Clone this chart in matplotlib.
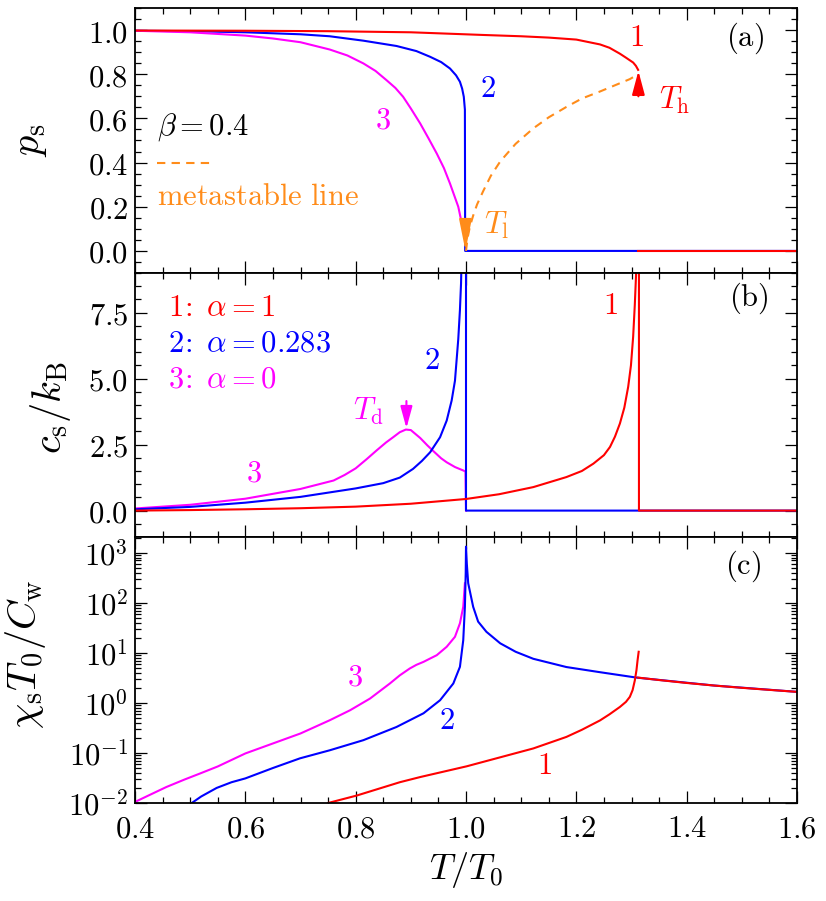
import numpy as np
import matplotlib
matplotlib.use("Agg")
import matplotlib.pyplot as plt
from matplotlib.ticker import MultipleLocator, FuncFormatter, LogLocator, NullFormatter

plt.rcParams['mathtext.fontset'] = 'cm'
plt.rcParams['font.family'] = ['DejaVu Serif']

RED, BLUE, MAG, ORG = '#ff0000', '#0000ff', '#ff00ff', '#ff8c1a'

# ---------------- panel (a): p_s ----------------
a_red_T = [0.40, 0.60, 0.75, 0.90, 1.03, 1.10, 1.15, 1.20, 1.243, 1.26, 1.279, 1.29, 1.303, 1.308, 1.312]
a_red_p = [0.998, 0.997, 0.995, 0.99, 0.978, 0.972, 0.966, 0.957, 0.935, 0.92, 0.893, 0.875, 0.853, 0.838, 0.82]
a_red0_T = [1.312, 1.60]
a_red0_p = [0.0, 0.0]
a_blue_T = [0.40, 0.50, 0.60, 0.70, 0.753, 0.814, 0.874, 0.91, 0.935, 0.955, 0.971, 0.982, 0.989, 0.993, 0.996, 0.998, 0.9985, 1.6]
a_blue_p = [0.997, 0.995, 0.99, 0.981, 0.972, 0.952, 0.928, 0.905, 0.879, 0.855, 0.826, 0.795, 0.766, 0.735, 0.698, 0.64, 0.0, 0.0]
a_mag_T = [0.40, 0.50, 0.60, 0.65, 0.70, 0.753, 0.785, 0.814, 0.836, 0.856, 0.872, 0.886, 0.90, 0.917, 0.932, 0.947, 0.96, 0.971, 0.986, 0.995, 0.997]
a_mag_p = [0.997, 0.99, 0.975, 0.962, 0.945, 0.912, 0.885, 0.849, 0.815, 0.773, 0.738, 0.698, 0.645, 0.577, 0.51, 0.441, 0.375, 0.305, 0.20, 0.094, 0.07]
meta_T = [1.0, 1.003, 1.007, 1.013, 1.02, 1.031, 1.045, 1.062, 1.09, 1.122, 1.15, 1.182, 1.21, 1.243, 1.27, 1.297, 1.312]
meta_p = [0.0, 0.06, 0.11, 0.16, 0.21, 0.27, 0.34, 0.405, 0.485, 0.555, 0.605, 0.652, 0.69, 0.722, 0.75, 0.778, 0.80]

# ---------------- panel (b): c_s/k_B ----------------
b_red_T = [0.40, 0.50, 0.60, 0.70, 0.80, 0.90, 1.00, 1.06, 1.122, 1.182, 1.21, 1.231, 1.25, 1.261, 1.27, 1.279, 1.287,
           1.294, 1.299, 1.303, 1.306, 1.309, 1.311, 1.3135, 1.3135, 1.60]
b_red_c = [0.0, 0.02, 0.05, 0.09, 0.15, 0.26, 0.44, 0.62, 0.89, 1.27, 1.5, 1.78, 2.1, 2.41, 2.8, 3.30, 3.9,
           4.69, 5.5, 6.59, 7.8, 9.3, 12.0, 12.0, 0.0, 0.0]
b_blue_T = [0.40, 0.50, 0.60, 0.70, 0.80, 0.85, 0.88, 0.904, 0.92, 0.935, 0.953, 0.965, 0.974, 0.980, 0.986, 0.989,
            0.991, 0.993, 1.000, 1.000, 1.600]
b_blue_c = [0.05, 0.14, 0.30, 0.52, 0.84, 1.04, 1.25, 1.58, 1.88, 2.21, 2.78, 3.41, 4.17, 4.92, 6.5, 7.6,
            8.6, 10.5, 10.5, 0.0, 0.0]
b_mag_T = [0.40, 0.50, 0.60, 0.70, 0.76, 0.78, 0.80, 0.82, 0.838, 0.855, 0.868, 0.88, 0.891, 0.90, 0.917, 0.93,
           0.941, 0.955, 0.965, 0.98, 0.995, 0.999, 1.0]
b_mag_c = [0.08, 0.22, 0.45, 0.82, 1.14, 1.35, 1.60, 1.95, 2.28, 2.58, 2.78, 2.97, 3.07, 3.05, 2.75, 2.47,
           2.25, 1.98, 1.83, 1.65, 1.52, 1.48, 0.0]

# ---------------- panel (c): chi_s T0 / C_w ----------------
c_red_T = [0.75, 0.802, 0.88, 0.917, 1.001, 1.122, 1.182, 1.21, 1.243, 1.26, 1.279, 1.29, 1.297, 1.302, 1.306, 1.309, 1.311, 1.313]
c_red_x = [0.0100, 0.0141, 0.026, 0.033, 0.054, 0.123, 0.209, 0.29, 0.447, 0.59, 0.83, 1.05, 1.32, 1.8, 2.8, 4.5, 7.1, 10.5]
c_red2_T = [1.312, 1.35, 1.40, 1.45, 1.50, 1.55, 1.60]
c_red2_x = [3.2, 2.86, 2.5, 2.22, 2.0, 1.82, 1.66]
c_blue_T = [0.50, 0.52, 0.548, 0.575, 0.60, 0.65, 0.699, 0.753, 0.814, 0.874, 0.923, 0.953, 0.977, 0.989, 0.995, 0.998, 0.9995, 1.0,
            1.0015, 1.004, 1.013, 1.022, 1.037, 1.062, 1.09, 1.122, 1.182, 1.243, 1.309, 1.45, 1.60]
c_blue_x = [0.0095, 0.0135, 0.020, 0.026, 0.031, 0.050, 0.078, 0.113, 0.18, 0.33, 0.62, 1.13, 2.44, 5.25, 17.8, 83, 400, 1320,
            600, 245, 83, 42, 26.3, 15.5, 10.5, 7.6, 5.2, 4.1, 3.2, 2.22, 1.66]
c_mag_T = [0.40, 0.43, 0.457, 0.49, 0.518, 0.55, 0.60, 0.70, 0.753, 0.79, 0.826, 0.862, 0.88, 0.898, 0.91, 0.923, 0.935,
           0.947, 0.965, 0.98, 0.989, 0.995, 0.998]
c_mag_x = [0.0105, 0.0151, 0.0209, 0.0295, 0.0389, 0.0537, 0.0977, 0.245, 0.45, 0.714, 1.22, 2.44, 3.55, 4.86, 5.75, 6.6, 7.7,
           8.97, 13.2, 20.9, 38.9, 83, 245]

W, H = 826, 901
fig = plt.figure(figsize=(W / 100, H / 100), dpi=100)
L, R = 135 / W, 797 / W
def box(top, bot):
    return [L, 1 - bot / H, R - L, (bot - top) / H]
axA = fig.add_axes(box(8, 273))
axB = fig.add_axes(box(273, 537))
axC = fig.add_axes(box(537, 803))

lw = 1.5
TFS = 22
AFS = 22
LFS = 29
for ax in (axA, axB, axC):
    ax.set_xlim(0.4, 1.6)
    ax.xaxis.set_major_locator(MultipleLocator(0.2))
    ax.xaxis.set_minor_locator(MultipleLocator(0.05))
    ax.tick_params(which='both', direction='in', top=True, right=True, width=0.9)
    ax.tick_params(which='major', length=8.5)
    ax.tick_params(which='minor', length=4)
    ax.tick_params(axis='y', labelsize=TFS, pad=5)
    ax.tick_params(axis='x', labelsize=TFS, pad=7.5)
    for s in ax.spines.values():
        s.set_linewidth(1.3)
    ax.xaxis.set_major_formatter(FuncFormatter(lambda v, p: f'${v:.1f}$'))
axA.tick_params(labelbottom=False)
axB.tick_params(labelbottom=False)

# panel (a)
axA.plot(a_blue_T, a_blue_p, color=BLUE, lw=lw)
axA.plot(a_mag_T, a_mag_p, color=MAG, lw=lw)
axA.plot(meta_T, meta_p, color=ORG, lw=lw, ls=(0, (4, 3)))
axA.plot(a_red_T, a_red_p, color=RED, lw=lw)
axA.plot(a_red0_T, a_red0_p, color=RED, lw=lw)
axA.set_ylim(-0.1, 1.1)
axA.yaxis.set_major_locator(MultipleLocator(0.2))
axA.yaxis.set_minor_locator(MultipleLocator(0.05))
axA.yaxis.set_major_formatter(FuncFormatter(lambda v, p: f'${v:.1f}$'))
axA.annotate('', xy=(0.999, 0.0), xytext=(0.999, 0.14),
             arrowprops=dict(arrowstyle='-|>,head_length=1.6,head_width=0.32', color=ORG,
                             lw=lw, mutation_scale=12, shrinkA=0, shrinkB=0))
axA.annotate('', xy=(1.3125, 0.815), xytext=(1.3125, 0.70),
             arrowprops=dict(arrowstyle='-|>,head_length=1.2,head_width=0.32', color=RED,
                             lw=lw, mutation_scale=12, shrinkA=0, shrinkB=0))
axA.text(1.309, 0.965, r'$1$', color=RED, fontsize=AFS, ha='center', va='center')
axA.text(1.04, 0.736, r'$2$', color=BLUE, fontsize=AFS, ha='center', va='center')
axA.text(0.85, 0.592, r'$3$', color=MAG, fontsize=AFS, ha='center', va='center')
axA.text(1.379, 0.683, r'$T_\mathrm{h}$', color=RED, fontsize=AFS, ha='center', va='center')
axA.text(1.056, 0.116, r'$T_\mathrm{l}$', color=ORG, fontsize=AFS, ha='center', va='center')
axA.text(1.506, 0.965, r'$\mathrm{(a)}$', color='black', fontsize=AFS, ha='center', va='center')
axA.text(0.439, 0.562, r'$\beta=0.4$', color='black', fontsize=AFS, ha='left', va='center')
axA.plot([0.439, 0.542], [0.40, 0.40], color=ORG, lw=lw, ls=(0, (4, 3)))
axA.text(0.439, 0.245, r'$\mathrm{metastable\ line}$', color=ORG, fontsize=AFS, ha='left', va='center')
axA.set_ylabel(r'$p_\mathrm{s}$', fontsize=LFS, va='center')
axA.yaxis.set_label_coords(-0.158, 0.5)

# panel (b)
axB.plot(b_mag_T, b_mag_c, color=MAG, lw=lw)
axB.plot(b_blue_T, b_blue_c, color=BLUE, lw=lw)
axB.plot(b_red_T, b_red_c, color=RED, lw=lw)
axB.set_ylim(-1.0, 9.0)
axB.yaxis.set_major_locator(MultipleLocator(2.5))
axB.yaxis.set_minor_locator(MultipleLocator(0.5))
axB.yaxis.set_major_formatter(FuncFormatter(lambda v, p: f'${v:.1f}$'))
axB.annotate('', xy=(0.892, 3.12), xytext=(0.892, 4.15),
             arrowprops=dict(arrowstyle='-|>,head_length=1.1,head_width=0.3', color=MAG,
                             lw=lw, mutation_scale=12, shrinkA=0, shrinkB=0))
axB.text(1.261, 7.75, r'$1$', color=RED, fontsize=AFS, ha='center', va='center')
axB.text(0.938, 5.68, r'$2$', color=BLUE, fontsize=AFS, ha='center', va='center')
axB.text(0.616, 1.42, r'$3$', color=MAG, fontsize=AFS, ha='center', va='center')
axB.text(0.823, 3.75, r'$T_\mathrm{d}$', color=MAG, fontsize=AFS, ha='center', va='center')
axB.text(1.512, 8.03, r'$\mathrm{(b)}$', color='black', fontsize=AFS, ha='center', va='center')
axB.text(0.460, 7.69, r'$1\!:\ \alpha=1$', color=RED, fontsize=AFS, ha='left', va='center')
axB.text(0.460, 6.34, r'$2\!:\ \alpha=0.283$', color=BLUE, fontsize=AFS, ha='left', va='center')
axB.text(0.460, 5.0, r'$3\!:\ \alpha=0$', color=MAG, fontsize=AFS, ha='left', va='center')
axB.set_ylabel(r'$c_\mathrm{s}/k_\mathrm{B}$', fontsize=LFS, va='center')
axB.yaxis.set_label_coords(-0.127, 0.49)

# panel (c)
axC.plot(c_mag_T, c_mag_x, color=MAG, lw=lw)
axC.plot(c_blue_T, c_blue_x, color=BLUE, lw=lw)
axC.plot(c_red_T, c_red_x, color=RED, lw=lw)
axC.plot(c_red2_T, c_red2_x, color=RED, lw=lw)
axC.set_yscale('log')
axC.set_ylim(1e-2, 2060)
axC.yaxis.set_major_locator(LogLocator(base=10, numticks=20))
axC.yaxis.set_minor_locator(LogLocator(base=10, subs=np.arange(2, 10), numticks=50))
axC.yaxis.set_minor_formatter(NullFormatter())
axC.yaxis.set_major_formatter(FuncFormatter(lambda v, p: f'$10^{{{int(round(np.log10(v)))}}}$'))
axC.tick_params(which='both', direction='in', top=True, right=True)
axC.text(0.799, 3.3, r'$3$', color=MAG, fontsize=AFS, ha='center', va='center')
axC.text(0.965, 0.45, r'$2$', color=BLUE, fontsize=AFS, ha='center', va='center')
axC.text(1.143, 0.056, r'$1$', color=RED, fontsize=AFS, ha='center', va='center')
axC.text(1.503, 525, r'$\mathrm{(c)}$', color='black', fontsize=AFS, ha='center', va='center')
axC.set_ylabel(r'$\chi_\mathrm{s}T_0/C_\mathrm{w}$', fontsize=LFS, va='center')
axC.yaxis.set_label_coords(-0.166, 0.56)
axC.set_xlabel(r'$T/T_0$', fontsize=26, va='center')
axC.xaxis.set_label_coords(0.5, -0.253)

fig.savefig('out.png', dpi=100)
